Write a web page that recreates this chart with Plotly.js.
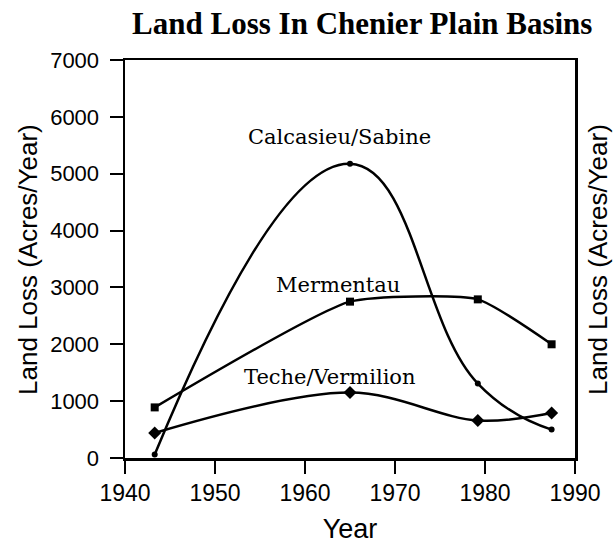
<!DOCTYPE html>
<html>
<head>
<meta charset="utf-8">
<script src="https://cdn.plot.ly/plotly-3.0.1.min.js"></script>
<style>html,body{margin:0;padding:0;background:#fff;}#chart{width:614px;height:550px;}</style>
</head>
<body>
<div id="chart"></div>
<script>
// Data
const years = [1943.3, 1965.0, 1979.2, 1987.4];
const calcasieuSabine = [60, 5175, 1310, 500];
const mermentau = [890, 2750, 2790, 2000];
const techeVermilion = [440, 1150, 660, 790];
const seriesNames = ["Calcasieu/Sabine", "Mermentau", "Teche/Vermilion"];
const labelX = [1963.8, 1963.7, 1962.8];
const labelY = [5640, 3040, 1430];
const xTicks = [1940, 1950, 1960, 1970, 1980, 1990];
const yTicks = [0, 1000, 2000, 3000, 4000, 5000, 6000, 7000];
const yTitle = "Land Loss (Acres/Year)";

const sans = "Liberation Sans, Arial, sans-serif";
const serif = "DejaVu Serif, serif";
const titleSerif = "Liberation Serif, Times New Roman, serif";

function trace(y, sym, size, name, smooth) {
  return {
    x: years, y: y, name: name, type: "scatter", mode: "lines+markers",
    line: {color: "#000", width: 2.5, shape: "spline", smoothing: smooth},
    marker: {symbol: sym, size: size, color: "#000"},
    cliponaxis: false
  };
}

const data = [
  trace(calcasieuSabine, "circle", 6, seriesNames[0], 1.3),
  trace(mermentau, "square", 8, seriesNames[1], 0.5),
  trace(techeVermilion, "diamond", 10, seriesNames[2], 1.0)
];

const annotations = seriesNames.map((n, i) => ({
  x: labelX[i], y: labelY[i], xref: "x", yref: "y", text: n, showarrow: false,
  font: {family: serif, size: 21, color: "#000"}
}));
annotations.push({
  xref: "paper", yref: "paper", x: -0.2156, xanchor: "center", y: 0.5, yanchor: "middle", text: yTitle,
  textangle: -90, showarrow: false, font: {family: sans, size: 26, color: "#000"}
});
annotations.push({
  xref: "paper", yref: "paper", x: 1.051, xanchor: "center", y: 0.5, yanchor: "middle", text: yTitle,
  textangle: -90, showarrow: false, font: {family: sans, size: 26, color: "#000"}
});

const layout = {
  width: 614, height: 550,
  margin: {l: 125, r: 39, t: 60, b: 92},
  paper_bgcolor: "#fff", plot_bgcolor: "#fff",
  showlegend: false,
  title: {text: "<b>Land Loss In Chenier Plain Basins</b>", x: 0.59, xanchor: "center", y: 0.958, yanchor: "middle",
    font: {family: titleSerif, size: 31, color: "#000"}},
  xaxis: {
    range: [1940, 1990], tickvals: xTicks, ticktext: xTicks.map(String),
    showgrid: false, zeroline: false, showline: true, linecolor: "#000", linewidth: 2.5, mirror: true,
    ticks: "outside", ticklen: 13, tickwidth: 2, tickcolor: "#000",
    tickfont: {family: sans, size: 23, color: "#000"},
    title: {text: "Year", font: {family: sans, size: 27, color: "#000"}, standoff: 14}
  },
  yaxis: {
    range: [0, 7000], tickvals: yTicks, ticktext: yTicks.map(String),
    showgrid: false, zeroline: false, showline: true, linecolor: "#000", linewidth: 2.5, mirror: true,
    ticks: "outside", ticklen: 13, tickwidth: 2, tickcolor: "#000",
    tickfont: {family: sans, size: 22, color: "#000"},
    ticklabelstandoff: 6
  },
  annotations: annotations
};

Plotly.newPlot("chart", data, layout, {displayModeBar: false, staticPlot: true});
</script>
</body>
</html>
